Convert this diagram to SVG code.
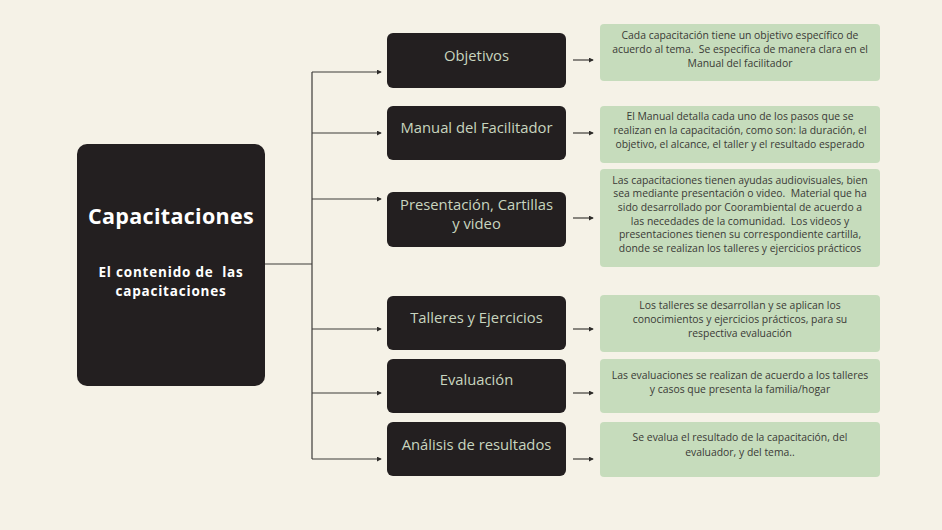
<svg xmlns="http://www.w3.org/2000/svg" width="942" height="530" viewBox="0 0 942 530">
<style>
.dark{fill:#231f20}
.green{fill:#c6dcbc}
.lbl{font-family:"Open Sans","Noto Sans",sans-serif;font-size:14.8px;fill:#c8d5bf;text-anchor:middle}
.desc{font-family:"Open Sans","Noto Sans",sans-serif;font-size:10.4px;fill:#3a3a36;text-anchor:middle}
.ttl{font-family:"Open Sans","Noto Sans",sans-serif;font-weight:700;fill:#ffffff;text-anchor:middle}
.ln{stroke:#3e3c3a;stroke-width:1.2;fill:none}
.ar{stroke:#3e3c3a;stroke-width:1.2;fill:none;marker-end:url(#ah)}
</style>
<defs>
<marker id="ah" viewBox="0 0 6 6" refX="5" refY="3" markerWidth="5" markerHeight="5" markerUnits="userSpaceOnUse" orient="auto">
<path d="M0,0 L6,3 L0,6 z" fill="#2e2c2a"/>
</marker>
</defs>
<rect width="942" height="530" fill="#f5f2e7"/>
<g id="connectors">
<path class="ln" d="M265,264 H312 M312,72 V459"/>
<path class="ar" d="M312,72 H381"/>
<path class="ar" d="M312,133 H381"/>
<path class="ar" d="M312,199 H381"/>
<path class="ar" d="M312,329 H381"/>
<path class="ar" d="M312,393 H381"/>
<path class="ar" d="M312,459 H381"/>
<path class="ar" d="M573,60 H593"/>
<path class="ar" d="M573,133 H593"/>
<path class="ar" d="M573,218 H593"/>
<path class="ar" d="M573,329 H593"/>
<path class="ar" d="M573,393 H593"/>
<path class="ar" d="M573,459 H593"/>
</g>
<g id="capacitaciones">
<rect class="dark" x="77" y="144" width="188" height="242" rx="10"/>
<text class="ttl" x="171" y="224" font-size="21.5" letter-spacing="0.3">Capacitaciones</text>
<text class="ttl" x="171" y="277" font-size="13.5" letter-spacing="0.8" xml:space="preserve">El contenido de  las</text>
<text class="ttl" x="171" y="296" font-size="13.5" letter-spacing="0.8">capacitaciones</text>
</g>
<g id="objetivos">
<rect class="dark" x="387" y="33" width="179" height="55" rx="6"/>
<text class="lbl" x="476.5" y="61">Objetivos</text>
</g>
<g id="manual">
<rect class="dark" x="387" y="106" width="179" height="54" rx="6"/>
<text class="lbl" x="476.5" y="133">Manual del Facilitador</text>
</g>
<g id="presentacion">
<rect class="dark" x="387" y="192" width="179" height="55" rx="6"/>
<text class="lbl" x="476.5" y="210">Presentación, Cartillas</text>
<text class="lbl" x="476.5" y="229">y video</text>
</g>
<g id="talleres">
<rect class="dark" x="387" y="296" width="179" height="54" rx="6"/>
<text class="lbl" x="476.5" y="323">Talleres y Ejercicios</text>
</g>
<g id="evaluacion">
<rect class="dark" x="387" y="359" width="179" height="54" rx="6"/>
<text class="lbl" x="476.5" y="385">Evaluación</text>
</g>
<g id="analisis">
<rect class="dark" x="387" y="422" width="179" height="54" rx="6"/>
<text class="lbl" x="476.5" y="450">Análisis de resultados</text>
</g>
<g id="desc-objetivos">
<rect class="green" x="600" y="24" width="280" height="57" rx="4"/>
<text class="desc" x="740" y="38.5">Cada capacitación tiene un objetivo específico de</text>
<text class="desc" x="740" y="52.5" xml:space="preserve">acuerdo al tema.  Se especifica de manera clara en el</text>
<text class="desc" x="740" y="66.5">Manual del facilitador</text>
</g>
<g id="desc-manual">
<rect class="green" x="600" y="106" width="280" height="57" rx="4"/>
<text class="desc" x="740" y="119.5">El Manual detalla cada uno de los pasos que se</text>
<text class="desc" x="740" y="133.5">realizan en la capacitación, como son: la duración, el</text>
<text class="desc" x="740" y="147.5">objetivo, el alcance, el taller y el resultado esperado</text>
</g>
<g id="desc-presentacion">
<rect class="green" x="600" y="169" width="280" height="98" rx="4"/>
<text class="desc" x="740" y="183.5">Las capacitaciones tienen ayudas audiovisuales, bien</text>
<text class="desc" x="740" y="197.2" xml:space="preserve">sea mediante presentación o video.  Material que ha</text>
<text class="desc" x="740" y="210.9">sido desarrollado por Coorambiental de acuerdo a</text>
<text class="desc" x="740" y="224.6" xml:space="preserve">las necedades de la comunidad.  Los videos y</text>
<text class="desc" x="740" y="238.3">presentaciones tienen su correspondiente cartilla,</text>
<text class="desc" x="740" y="252">donde se realizan los talleres y ejercicios prácticos</text>
</g>
<g id="desc-talleres">
<rect class="green" x="600" y="295" width="280" height="57" rx="4"/>
<text class="desc" x="740" y="308.5">Los talleres se desarrollan y se aplican los</text>
<text class="desc" x="740" y="322.5">conocimientos y ejercicios prácticos, para su</text>
<text class="desc" x="740" y="336.5">respectiva evaluación</text>
</g>
<g id="desc-evaluacion">
<rect class="green" x="600" y="359" width="280" height="54" rx="4"/>
<text class="desc" x="740" y="378.5">Las evaluaciones se realizan de acuerdo a los talleres</text>
<text class="desc" x="740" y="392.5">y casos que presenta la familia/hogar</text>
</g>
<g id="desc-analisis">
<rect class="green" x="600" y="422" width="280" height="55" rx="4"/>
<text class="desc" x="740" y="440.5">Se evalua el resultado de la capacitación, del</text>
<text class="desc" x="740" y="455.5">evaluador, y del tema..</text>
</g>
</svg>
